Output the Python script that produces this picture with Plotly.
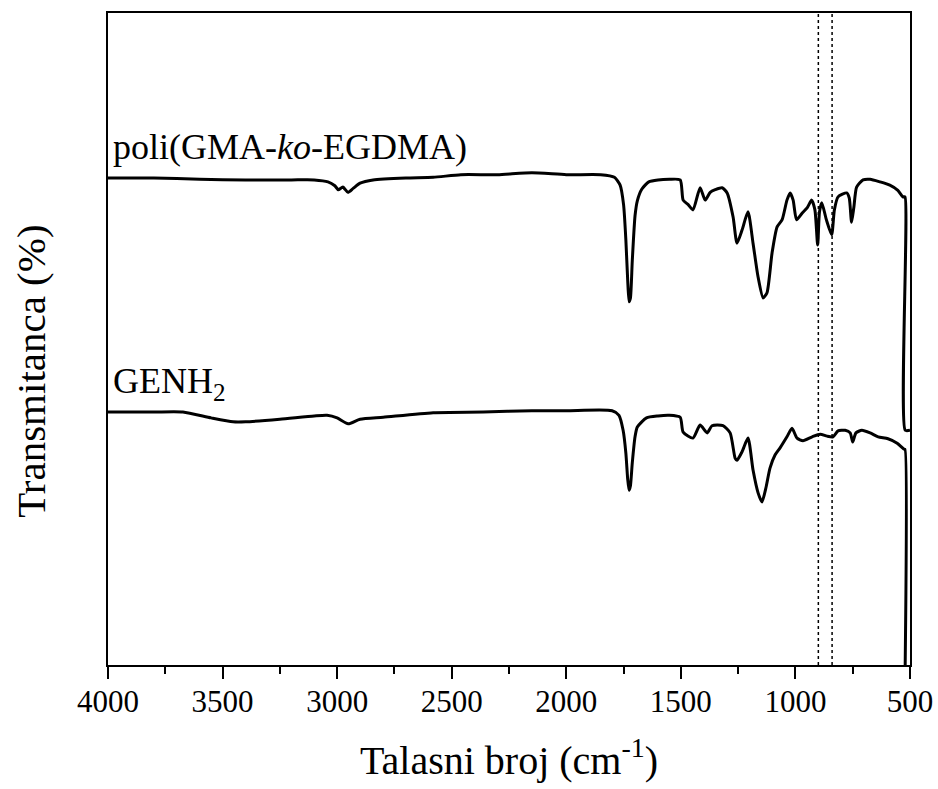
import plotly.graph_objects as go

# FTIR spectra (wavenumber in cm-1, transmittance in arbitrary offset units)
poli_wn = [4000, 3800, 3600, 3400, 3200, 3100, 3040, 3010, 2995, 2975, 2953, 2930,
           2900, 2843, 2700, 2581, 2460, 2300, 2150, 2000, 1850, 1790, 1765, 1750,
           1740, 1732, 1726, 1720, 1712, 1700, 1690, 1670, 1640, 1600, 1550, 1503,
           1490, 1468, 1447, 1416, 1394, 1372, 1350, 1320, 1298, 1272, 1255, 1233,
           1207, 1185, 1163, 1141, 1124, 1102, 1080, 1058, 1037, 1023, 1010, 995,
           971, 949, 929, 915, 903, 895, 885, 865, 842, 830, 814, 776, 765, 755,
           745, 733, 705, 674, 631, 588, 553, 531, 522, 521, 500]
poli_t = [74.7, 74.7, 74.5, 74.4, 74.4, 74.4, 74.1, 73.5, 72.9, 73.3, 72.5, 73.1,
          73.9, 74.4, 74.7, 74.8, 75.2, 75.2, 75.5, 75.2, 75.2, 74.8, 73.6, 70.6,
          65.2, 59.0, 55.7, 56.3, 62.0, 68.9, 71.2, 73.0, 74.1, 74.4, 74.5, 74.4,
          71.3, 70.6, 69.8, 73.2, 71.3, 72.5, 72.9, 73.2, 72.4, 68.7, 64.7, 66.7,
          69.5, 64.7, 59.5, 56.3, 57.1, 63.2, 67.2, 68.3, 71.3, 72.4, 71.3, 68.3,
          69.3, 70.1, 71.3, 69.8, 64.4, 69.5, 70.9, 68.3, 66.0, 69.8, 71.8, 72.4,
          71.6, 67.9, 70.2, 73.3, 74.4, 74.5, 74.1, 73.6, 72.8, 71.8, 71.8, 36.0, 36.0]

genh2_wn = [4000, 3800, 3673, 3550, 3454, 3400, 3250, 3100, 3044, 3000, 2952, 2900,
            2799, 2581, 2362, 2150, 2000, 1800, 1770, 1752, 1740, 1732, 1726, 1720,
            1712, 1700, 1690, 1650, 1600, 1550, 1503, 1490, 1447, 1416, 1385, 1364,
            1316, 1285, 1263, 1255, 1233, 1207, 1185, 1163, 1146, 1128, 1111, 1089,
            1067, 1037, 1015, 993, 967, 927, 892, 862, 836, 814, 783, 761, 750, 736,
            710, 674, 639, 596, 556, 526, 522, 521]
genh2_t = [38.8, 38.8, 38.8, 37.9, 37.3, 37.3, 37.7, 38.2, 38.3, 37.9, 37.0, 37.7,
           38.0, 38.7, 38.8, 39.0, 39.0, 39.0, 38.3, 36.0, 32.5, 28.5, 26.8, 27.5,
           31.0, 35.0, 36.5, 37.9, 38.2, 38.3, 38.0, 35.7, 34.8, 36.8, 35.6, 36.7,
           36.7, 35.6, 31.7, 31.4, 32.7, 34.8, 29.9, 26.4, 25.0, 27.3, 30.2, 32.2,
           33.3, 35.0, 36.3, 34.8, 34.4, 35.0, 35.4, 35.1, 35.0, 35.9, 36.0, 35.6,
           34.2, 35.6, 36.0, 35.6, 35.0, 34.7, 34.0, 33.1, 33.1, 0.0]

# epoxide band markers
marker_wn = [900, 840]

x_ticks = [4000, 3500, 3000, 2500, 2000, 1500, 1000, 500]

FONT = "Liberation Serif"

fig = go.Figure()
for wn, t in [(poli_wn, poli_t), (genh2_wn, genh2_t)]:
    fig.add_trace(go.Scatter(x=wn, y=t, mode="lines",
                             line=dict(color="black", width=3, shape="spline",
                                       smoothing=0.6),
                             showlegend=False, hoverinfo="skip"))

for wn in marker_wn:
    fig.add_shape(type="line", xref="x", yref="paper", x0=wn, x1=wn, y0=0, y1=1,
                  line=dict(color="black", width=1.5, dash="dot"))

fig.add_annotation(text="poli(GMA-<i>ko</i>-EGDMA)", xref="paper", yref="paper",
                   x=0.004, y=0.795, xanchor="left", yanchor="middle", showarrow=False,
                   font=dict(family=FONT, size=36, color="black"))
fig.add_annotation(text="GENH<sub>2</sub>", xref="paper", yref="paper",
                   x=0.004, y=0.432, xanchor="left", yanchor="middle", showarrow=False,
                   font=dict(family=FONT, size=36, color="black"))
fig.add_annotation(text="Transmitanca (%)", xref="paper", yref="paper",
                   x=-0.097, y=0.45, xanchor="center", yanchor="middle", textangle=-90,
                   showarrow=False, font=dict(family=FONT, size=41, color="black"))

fig.update_xaxes(range=[4000, 500], tickvals=x_ticks, ticks="outside", ticklen=12,
                 tickwidth=2, tickcolor="black", showline=True, linecolor="black",
                 linewidth=2, mirror=True, showgrid=False, zeroline=False,
                 automargin=False, ticklabelstandoff=-4,
                 minor=dict(ticks="outside", ticklen=7, tickwidth=2, dtick=250,
                            tickcolor="black", showgrid=False),
                 tickfont=dict(family=FONT, size=31, color="black"),
                 title=dict(text="Talasni broj (cm<sup>-1</sup>)",
                            font=dict(family=FONT, size=40, color="black"), standoff=28))
fig.update_yaxes(range=[0, 100], showticklabels=False, ticks="", showline=True,
                 linecolor="black", linewidth=2, mirror=True, showgrid=False,
                 zeroline=False, automargin=False)

fig.update_layout(width=938, height=789, margin=dict(l=108, r=28, t=13, b=124),
                  plot_bgcolor="white", paper_bgcolor="white")

fig.write_html("out.html")
